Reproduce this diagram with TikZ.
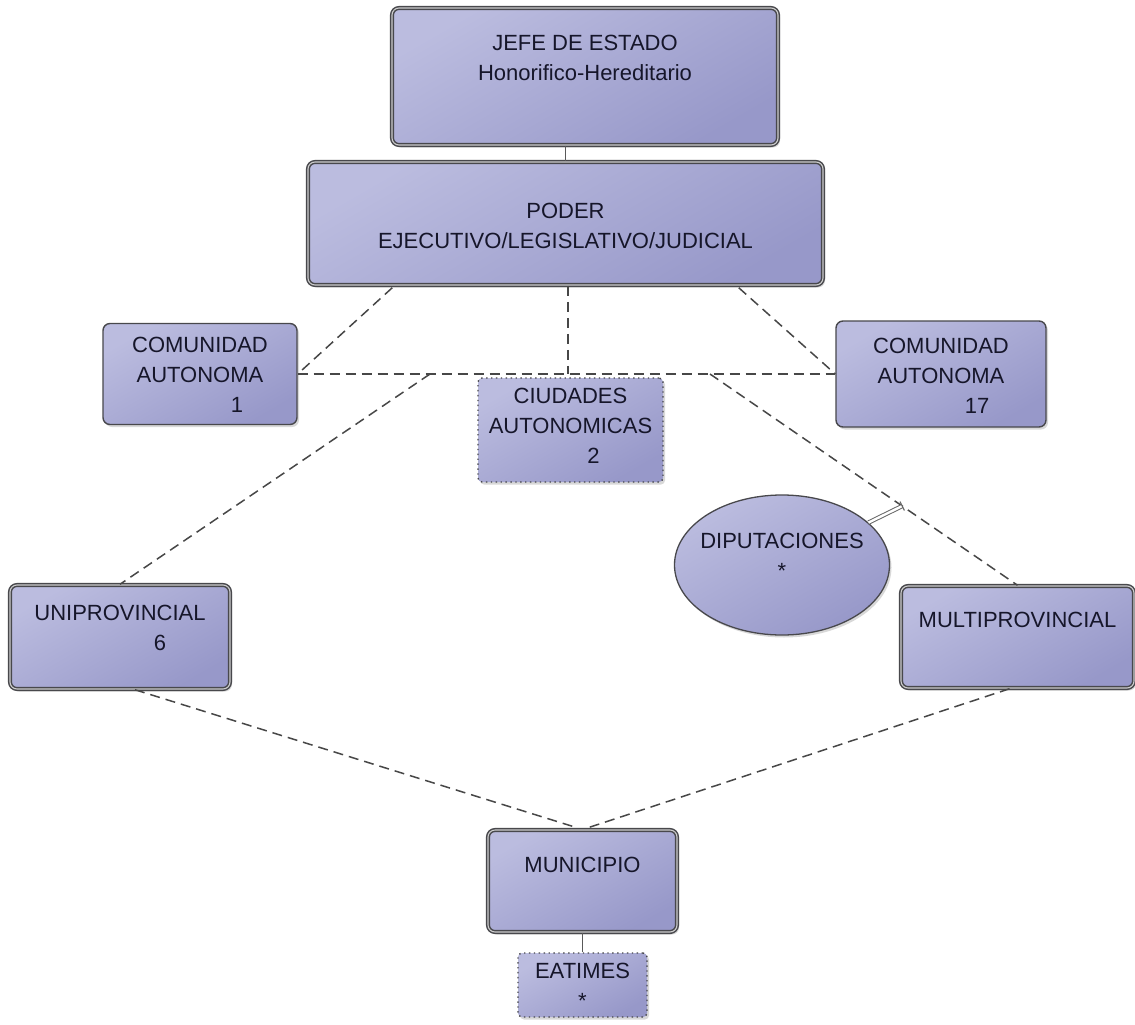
\documentclass[tikz,border=0pt]{standalone}
\usepackage{fontspec}
\setmainfont{Liberation Sans}
\usetikzlibrary{calc,shapes.geometric,shadows}
\definecolor{boxlight}{HTML}{BBBCDF}
\definecolor{boxdark}{HTML}{9798C9}
\definecolor{bordergray}{HTML}{48484C}
\definecolor{txtcol}{HTML}{16162A}
\begin{document}
\begin{tikzpicture}[x=1pt,y=-1pt,
  fillshade/.style={top color=boxlight, bottom color=boxdark, shading angle=30},
  basebox/.style={fillshade, rounded corners=7pt, inner sep=0pt,
     drop shadow={shadow xshift=2pt, shadow yshift=-2.5pt, opacity=0.3}},
  dblbox/.style={basebox, draw=bordergray, line width=1.5pt, double=gray!40, double distance=1.1pt},
  sglbox/.style={basebox, draw=bordergray, line width=1.4pt},
  dotbox/.style={basebox, draw=bordergray, line width=1.4pt, dash pattern=on 1.4pt off 3.5pt, rounded corners=4pt},
  ovalbox/.style={fillshade, ellipse, draw=bordergray, line width=1.3pt, inner sep=0pt,
     drop shadow={shadow xshift=2pt, shadow yshift=-2.5pt, opacity=0.3}},
  lbl/.style={align=center, inner sep=0pt, text=txtcol, font=\fontsize{22}{30}\selectfont},
  dashline/.style={draw=black!72, line width=1.5pt, dash pattern=on 10pt off 6pt},
  solidline/.style={draw=black!65, line width=1.1pt},
  dblline/.style={draw=black!60, line width=1pt, double=white, double distance=2.4pt}
]
\useasboundingbox[fill=white] (0,0) rectangle (1135,1025);

\coordinate (j1) at (430,374);
\coordinate (j2) at (710,374);

% boxes
\node[dblbox, minimum width=386, minimum height=137] (jefe) at (585,76.5) {};
\node[dblbox, minimum width=515, minimum height=123] (poder) at (565.5,223.5) {};
\node[sglbox, minimum width=194, minimum height=101] (com1) at (200,374) {};
\node[sglbox, minimum width=210, minimum height=106] (com17) at (941,374) {};
\node[ovalbox, minimum width=215, minimum height=140] (dip) at (782,565) {};
\node[dblbox, minimum width=220, minimum height=104] (uni) at (120,637) {};
\node[dblbox, minimum width=233, minimum height=102] (multi) at (1017.5,637) {};
\node[dblbox, minimum width=189, minimum height=102] (mun) at (582.5,881) {};

% connectors
\draw[solidline] (poder.north |- jefe.south) -- (poder.north);
\draw[dashline] ($(poder.south west)+(85,2)$) -- (com1.east);
\draw[dashline] ($(poder.south east)+(-85,2)$) -- (com17.west);
\draw[dashline] ($(poder.south)+(2.5,0)$) -- (j1 -| 568,0);
\draw[dashline] (com1.east) -- (com17.west);
\draw[dashline] (j1) -- (uni.north);
\draw[dashline] (j2) -- (multi.north);
\draw[dashline] ($(uni.south)+(15,0)$) -- ($(mun.north)+(-7,-2)$);
\draw[dashline] ($(multi.south)+(-8,0)$) -- ($(mun.north)+(7,-2)$);
\coordinate (dp) at ($(j2)!0.625!(multi.north)$);
\draw[dblline] (dip) -- (dp);
\draw[draw=black!60, line width=1.1pt] ($(dp)!5pt!90:(dip)$) -- ($(dp)!5pt!-90:(dip)$);

% dotted boxes drawn over the horizontal line
\node[dotbox, minimum width=185, minimum height=104] (ciud) at (570.5,430) {};
\node[dotbox, minimum width=129, minimum height=64] (eat) at (582.5,985) {};
\draw[solidline] (mun.south) -- (eat.north);

% labels
\node[lbl] (jefeT) at (585,58) {JEFE DE ESTADO\\Honorifico-Hereditario};
\node[lbl] (poderT) at (565.5,226) {PODER\\EJECUTIVO/LEGISLATIVO/JUDICIAL};
\node[lbl] (com1T) at (200,375) {COMUNIDAD\\AUTONOMA\\\hspace*{74pt}1};
\node[lbl] (ciudT) at (570.5,426) {CIUDADES\\AUTONOMICAS\\\hspace*{46pt}2};
\node[lbl] (com17T) at (941,376) {COMUNIDAD\\AUTONOMA\\\hspace*{72pt}17};
\node[lbl] (dipT) at (782,556) {DIPUTACIONES\\*};
\node[lbl] (uniT) at (120,628) {UNIPROVINCIAL\\\hspace*{80pt}6};
\node[lbl] (multiT) at (1017.5,620) {MULTIPROVINCIAL};
\node[lbl] (munT) at (582.5,865) {MUNICIPIO};
\node[lbl] (eatT) at (582.5,986) {EATIMES\\*};
\end{tikzpicture}
\end{document}
